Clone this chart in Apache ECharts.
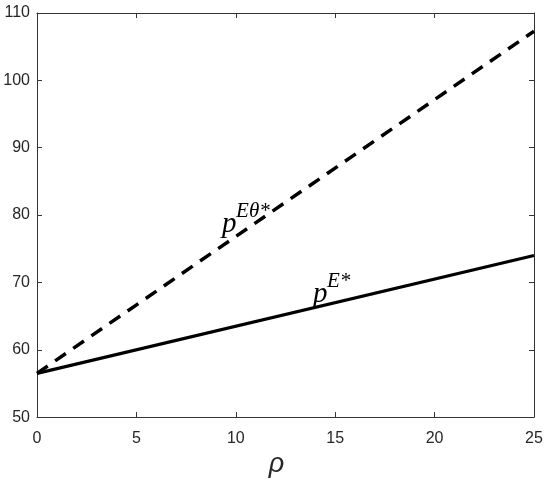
<!DOCTYPE html>
<html>
<head>
<meta charset="utf-8">
<script src="https://cdn.jsdelivr.net/npm/echarts@6/dist/echarts.min.js"></script>
<style>
  html, body { margin: 0; padding: 0; background: #fff; }
  #chart { width: 550px; height: 483px; }
</style>
</head>
<body>
<div id="chart"></div>
<script>
// values
const rho = [0, 25]
const pE = [56.5, 74.0]          // solid line
const pETheta = [56.5, 107.3]    // dashed line

const xTicks = [0, 5, 10, 15, 20, 25]
const yTicks = [50, 60, 70, 80, 90, 100, 110]

// label anchors in data coords (left / middle of the "p")
const labelAt = {
  theta: [9.31, 78.6],
  plain: [13.88, 68.2],
}

const axisColor = '#333'
const textColor = '#262626'

const chart = echarts.init(document.getElementById('chart'))

function frameAxis(extra) {
  return Object.assign({
    type: 'value',
    axisLine: { show: true, onZero: false, lineStyle: { color: axisColor, width: 1 } },
    axisTick: { show: true, inside: true, length: 5, lineStyle: { color: axisColor } },
    splitLine: { show: false },
  }, extra)
}

chart.setOption({
  animation: false,
  grid: { left: 37, right: 16, top: 13, bottom: 46 },
  xAxis: [
    frameAxis({
      min: xTicks[0], max: xTicks[xTicks.length - 1], interval: 5,
      name: 'ρ',
      nameLocation: 'middle',
      nameGap: 2,
      nameTextStyle: {
        fontFamily: 'Liberation Sans', fontStyle: 'italic', fontSize: 27, color: textColor,
        padding: [0, 18, 0, 0],
      },
      axisLabel: { margin: 13, fontFamily: 'Liberation Sans', fontSize: 16, color: textColor },
    }),
    frameAxis({
      position: 'top',
      min: xTicks[0], max: xTicks[xTicks.length - 1], interval: 5,
      axisLabel: { show: false },
    }),
  ],
  yAxis: [
    frameAxis({
      min: yTicks[0], max: yTicks[yTicks.length - 1], interval: 10,
      axisLabel: { margin: 7, fontFamily: 'Liberation Sans', fontSize: 16, color: textColor },
    }),
    frameAxis({
      position: 'right',
      min: yTicks[0], max: yTicks[yTicks.length - 1], interval: 10,
      axisLabel: { show: false },
    }),
  ],
  series: [
    {
      name: 'pEθ*',
      type: 'line',
      symbol: 'none',
      data: rho.map((x, i) => [x, pETheta[i]]),
      lineStyle: { color: '#000', width: 3.5, type: [13, 9] },
    },
    {
      name: 'pE*',
      type: 'line',
      symbol: 'none',
      data: rho.map((x, i) => [x, pE[i]]),
      lineStyle: { color: '#000', width: 3.2 },
    },
  ],
})

// italic "p" with a superscript, placed from a data-space anchor
function mathLabel(coord, sup) {
  const pt = chart.convertToPixel({ gridIndex: 0 }, coord)
  const font = { fontFamily: 'Liberation Serif', fontStyle: 'italic', fill: '#000', verticalAlign: 'middle', align: 'left' }
  return {
    type: 'group',
    x: pt[0],
    y: pt[1],
    children: [
      { type: 'text', x: 0, y: 0, style: Object.assign({ text: 'p', fontSize: 29 }, font) },
      { type: 'text', x: 14, y: -13, style: Object.assign({ text: sup, fontSize: 21 }, font) },
    ],
  }
}

chart.setOption({
  graphic: [
    mathLabel(labelAt.theta, 'Eθ*'),
    mathLabel(labelAt.plain, 'E*'),
  ],
})
</script>
</body>
</html>
